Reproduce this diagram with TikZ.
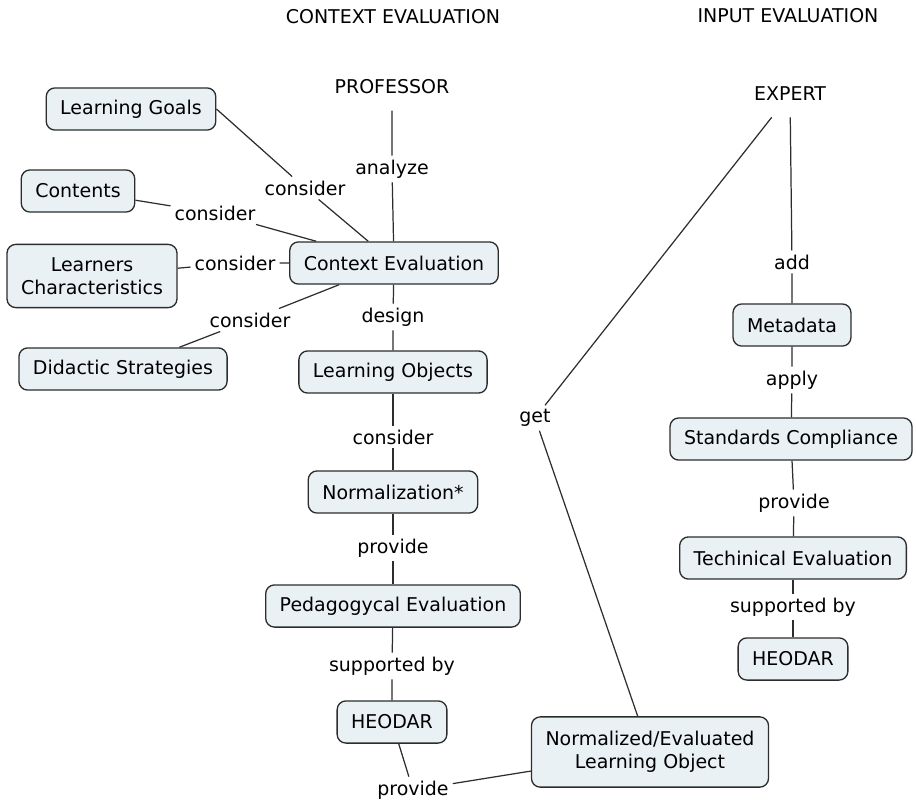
\documentclass[tikz,border=0pt]{standalone}
\usepackage{fontspec}
\setmainfont{DejaVu Sans}
\usepackage{xcolor}
\usepackage{tikz}

\definecolor{boxfill}{RGB}{233,241,245}
\definecolor{linkgray}{RGB}{45,45,45}

\tikzset{
  concept/.style={draw=linkgray, fill=boxfill, rounded corners=5pt, line width=0.75pt,
    inner xsep=8pt, minimum height=24pt, align=center},
  actor/.style={inner sep=9pt},
  link/.style={inner sep=2pt},
}

\begin{document}
\begin{tikzpicture}[x=0.02cm, y=-0.02cm, font=\fontsize{10.8}{13}\selectfont, line width=0.7pt]
\useasboundingbox (0,0) rectangle (916,801);

% headings
\node (ctxhead) at (393,17) {CONTEXT EVALUATION};
\node (inphead) at (788,16) {INPUT EVALUATION};

% context evaluation
\node[actor] (prof) at (392,87) {PROFESSOR};
\node[concept] (goals) at (131,109) {Learning Goals};
\node[concept] (contents) at (78,191) {Contents};
\node[concept, minimum height=36pt] (learners) at (92,276) {Learners\\Characteristics};
\node[concept] (didactic) at (123,369) {Didactic Strategies};
\node[concept] (ctx) at (394,263) {Context Evaluation};
\node[concept] (lobj) at (393,372) {Learning Objects};
\node[concept] (norm) at (393,492) {Normalization*};
\node[concept] (peda) at (393,606) {Pedagogycal Evaluation};
\node[concept] (heodarA) at (392,722) {HEODAR};
\node[concept, minimum height=40pt] (nlo) at (650,752) {Normalized/Evaluated\\Learning Object};

\node[link] (cGoals) at (305,188) {consider};
\node[link] (analyze) at (392,169) {analyze};
\node[link] (cContents) at (215,213) {consider};
\node[link] (cLearners) at (235,263) {consider};
\node[link] (cDidactic) at (250,320) {consider};
\node[link] (design) at (393,317) {design};
\node[link] (cNorm) at (393,437) {consider};
\node[link] (pPeda) at (393,548) {provide};
\node[link] (sbA) at (392,666) {supported by};
\node[link] (pNlo) at (413,790) {provide};

\draw[linkgray] (goals.east) -- (cGoals) -- (ctx);
\draw[linkgray] (prof) -- (analyze) -- (ctx);
\draw[linkgray] (contents) -- (cContents) -- (ctx);
\draw[linkgray] (learners) -- (cLearners) -- (ctx);
\draw[linkgray] (didactic) -- (cDidactic) -- (ctx);
\draw[linkgray] (ctx) -- (design) -- (lobj);
\draw[linkgray] (lobj) -- (cNorm) -- (norm);
\draw[linkgray] (norm) -- (pPeda) -- (peda);
\draw[linkgray] (peda) -- (sbA) -- (heodarA);
\draw[linkgray] (heodarA) -- (pNlo) -- (nlo);

% input evaluation
\node[actor] (expert) at (790,94) {EXPERT};
\node[concept] (meta) at (792,325) {Metadata};
\node[concept] (stds) at (791,439) {Standards Compliance};
\node[concept] (tech) at (793,558) {Techinical Evaluation};
\node[concept] (heodarB) at (793,659) {HEODAR};

\node[link] (get) at (535,418) {get};
\node[link] (add) at (792,262) {add};
\node[link] (apply) at (792,380) {apply};
\node[link] (pTech) at (794,503) {provide};
\node[link] (sbB) at (793,607) {supported by};

\draw[linkgray] (expert) -- (get) -- (nlo);
\draw[linkgray] (expert) -- (add) -- (meta);
\draw[linkgray] (meta) -- (apply) -- (stds);
\draw[linkgray] (stds) -- (pTech) -- (tech);
\draw[linkgray] (tech) -- (sbB) -- (heodarB);
\end{tikzpicture}
\end{document}
